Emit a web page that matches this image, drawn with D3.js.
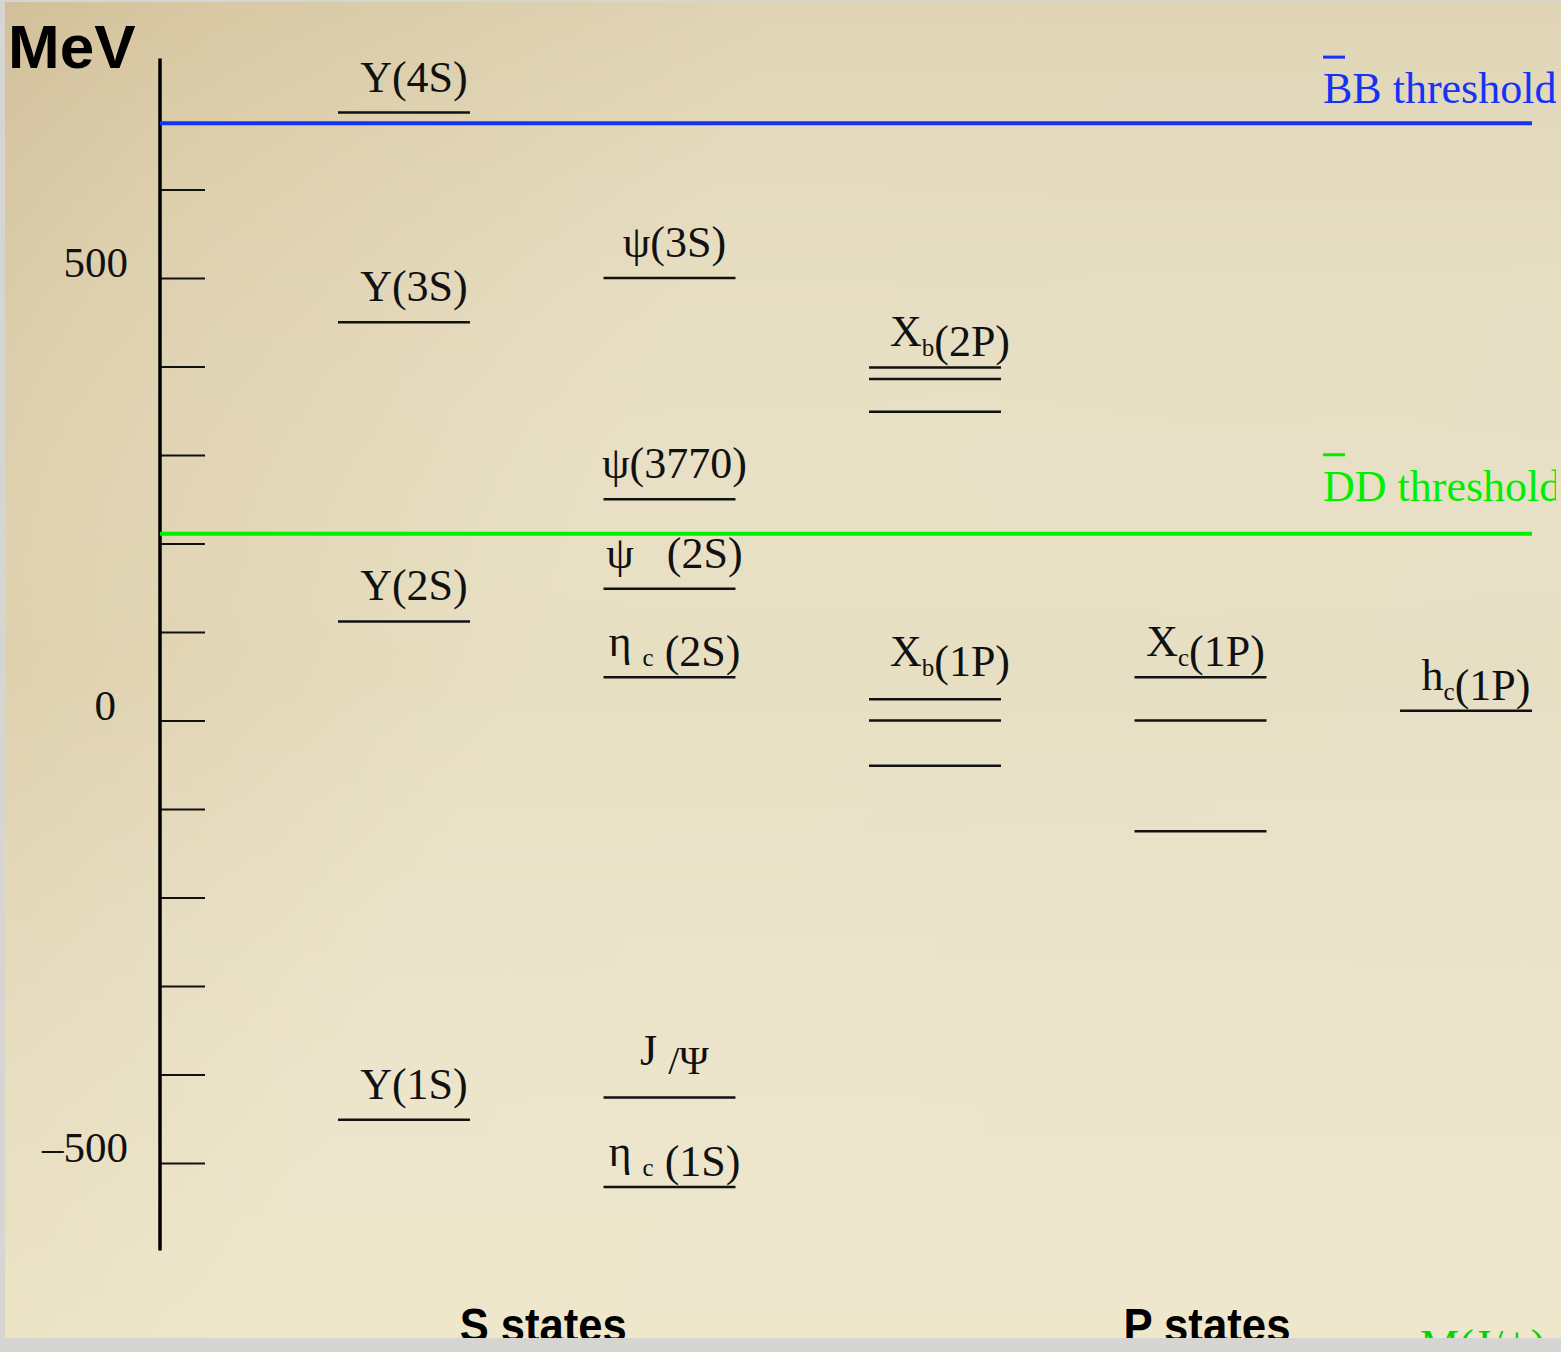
<!DOCTYPE html>
<html>
<head>
<meta charset="utf-8">
<script src="https://cdn.jsdelivr.net/npm/d3@7"></script>
<style>
  html, body { margin: 0; padding: 0; background: #d6d5d1; overflow: hidden; }
  svg { display: block; }
  text { white-space: pre; }
</style>
</head>
<body>
<svg id="chart" width="1561" height="1352"></svg>
<script>
// Quarkonium level scheme: masses relative to the 1P centre of gravity (MeV)
const columns = ["bbS", "ccS", "bbP", "ccP", "ccP1"];
const levelLabels = ["Υ(4S)", "Υ(3S)", "Υ(2S)", "Υ(1S)",
                     "ψ(3S)", "ψ(3770)", "ψ   (2S)", "η _{c} (2S)", "J ~{/Ψ}", "η _{c} (1S)",
                     "X_{b}(2P)", "X_{b}(1P)", "X_{c}(1P)", "h_{c}(1P)"];
const levelColumn = ["bbS", "bbS", "bbS", "bbS",
                     "ccS", "ccS", "ccS", "ccS", "ccS", "ccS",
                     "bbP", "bbP", "ccP", "ccP1"];
const levelMasses = [[687], [450], [112], [-451],
                     [500], [250], [149], [49], [-426], [-527],
                     [399, 386, 349], [24, 0, -51], [49, 0, -125], [11]];
const tickValues = [-500, -400, -300, -200, -100, 0, 100, 200, 300, 400, 500, 600];
const tickLabels = { "-500": "\u2013500", "0": "0", "500": "500" };
const thresholdNames = ["B", "D"];
const thresholdMasses = [675, 211];
const groupTitles = ["S states", "P states"];

const svg = d3.select("#chart");

// slide background
const defs = svg.append("defs");
const g1 = defs.append("linearGradient").attr("id", "bg")
  .attr("x1", 0).attr("y1", 0).attr("x2", 1).attr("y2", 0.35);
g1.append("stop").attr("offset", 0).attr("stop-color", "#d4c39e");
g1.append("stop").attr("offset", 0.12).attr("stop-color", "#ddcfab");
g1.append("stop").attr("offset", 0.45).attr("stop-color", "#e8dfc2");
g1.append("stop").attr("offset", 1).attr("stop-color", "#e7dfc4");
const g2 = defs.append("linearGradient").attr("id", "shade")
  .attr("x1", 0).attr("y1", 0).attr("x2", 0).attr("y2", 1);
g2.append("stop").attr("offset", 0).attr("stop-color", "#c9b58c").attr("stop-opacity", 0.25);
g2.append("stop").attr("offset", 0.5).attr("stop-color", "#ffffff").attr("stop-opacity", 0.0);
g2.append("stop").attr("offset", 1).attr("stop-color", "#fbf6dc").attr("stop-opacity", 0.35);
defs.append("clipPath").attr("id", "slideClip")
  .append("rect").attr("x", 0).attr("y", 0).attr("width", 1556).attr("height", 1352);

svg.append("rect").attr("x", 5).attr("y", 2).attr("width", 1556).attr("height", 1336).attr("fill", "url(#bg)");
svg.append("rect").attr("x", 5).attr("y", 2).attr("width", 1556).attr("height", 1336).attr("fill", "url(#shade)");

// scales
const y = d3.scaleLinear().domain([-500, 500]).range([1163, 278]);
const x = d3.scaleBand().domain(columns).range([338, 1532]).paddingInner(0.503).paddingOuter(0);
const axisX = 160;

// vertical energy axis
const axis = d3.axisRight(y).tickValues(tickValues).tickSize(45).tickFormat("");
const ax = svg.append("g").attr("transform", `translate(${axisX},0)`).call(axis);
ax.select(".domain").remove();
ax.selectAll(".tick line").attr("stroke", "#111").attr("stroke-width", 2);
svg.append("line")
  .attr("x1", axisX).attr("x2", axisX)
  .attr("y1", y(748)).attr("y2", y(-599))
  .attr("stroke", "#000").attr("stroke-width", 3.5);

svg.append("g").selectAll("text")
  .data(tickValues.filter(v => tickLabels[v] !== undefined))
  .join("text")
  .attr("x", d => d === 0 ? 116 : 128)
  .attr("y", d => y(d) - 1)
  .attr("text-anchor", "end")
  .attr("font-family", "Liberation Serif, Times New Roman, serif")
  .attr("font-size", 43)
  .attr("fill", "#111")
  .text(d => tickLabels[d]);

svg.append("text")
  .attr("x", 8).attr("y", 68)
  .attr("font-family", "Liberation Sans, Arial, sans-serif")
  .attr("font-weight", "bold").attr("font-size", 62)
  .attr("fill", "#000")
  .text("MeV");

// open-flavour thresholds
const thrColors = ["#1533f5", "#00ee00"];
const thrLift = [20, 33];
const thrText = svg.append("g").attr("clip-path", "url(#slideClip)");
thresholdMasses.forEach((m, i) => {
  svg.append("line")
    .attr("x1", axisX).attr("x2", x.range()[1])
    .attr("y1", y(m)).attr("y2", y(m))
    .attr("stroke", thrColors[i]).attr("stroke-width", 4);
  const base = y(m) - thrLift[i];
  thrText.append("text")
    .attr("x", 1323).attr("y", base)
    .attr("font-family", "Liberation Serif, Times New Roman, serif")
    .attr("font-size", 44)
    .attr("fill", thrColors[i])
    .text(thresholdNames[i] + thresholdNames[i] + " threshold");
  svg.append("line")
    .attr("x1", 1323).attr("x2", 1345)
    .attr("y1", base - 46).attr("y2", base - 46)
    .attr("stroke", thrColors[i]).attr("stroke-width", 3);
});

// energy levels
const levels = svg.append("g");
levelLabels.forEach((label, i) => {
  const col = levelColumn[i];
  const x0 = x(col), x1 = x(col) + x.bandwidth();
  levelMasses[i].forEach(m => {
    levels.append("line")
      .attr("x1", x0).attr("x2", x1)
      .attr("y1", y(m)).attr("y2", y(m))
      .attr("stroke", "#111").attr("stroke-width", 2.5);
  });
  const top = y(d3.max(levelMasses[i]));
  const lift = (label === "X_{b}(1P)" || label === "J ~{/Ψ}") ? 33 : 21;
  const dx = col === "ccS" ? 5 : col === "bbP" ? 15 : col === "ccP" ? 5 : 10;
  const t = levels.append("text")
    .attr("x", (x0 + x1) / 2 + dx)
    .attr("y", top - lift)
    .attr("text-anchor", "middle")
    .attr("font-family", "Liberation Serif, Times New Roman, serif")
    .attr("font-size", 44)
    .attr("fill", "#111");
  // tiny markup: _{..} subscript, ~{..} lowered
  const parts = label.split(/([_~]\{[^}]*\})/).filter(s => s.length);
  parts.forEach(p => {
    if (p.startsWith("_{")) {
      t.append("tspan").attr("font-size", 25).attr("dy", 10).text(p.slice(2, -1));
      t.append("tspan").attr("dy", -10).text("");
    } else if (p.startsWith("~{")) {
      t.append("tspan").attr("font-size", 40).attr("dy", 9).text(p.slice(2, -1));
    } else {
      t.append("tspan").text(p);
    }
  });
});

// group titles
const titleX = [(x("bbS") + x("ccS") + x.bandwidth()) / 2, x("ccP") + x.bandwidth() / 2];
groupTitles.forEach((s, i) => {
  svg.append("text")
    .attr("x", titleX[i] - 77).attr("y", 1342)
    .attr("font-family", "Liberation Sans, Arial, sans-serif")
    .attr("font-weight", "bold").attr("font-size", 48)
    .attr("textLength", 167).attr("lengthAdjust", "spacingAndGlyphs")
    .attr("fill", "#000")
    .text(s);
});

// green caption running off the lower edge of the slide
svg.append("text")
  .attr("x", 1420).attr("y", 1360)
  .attr("font-family", "Liberation Serif, Times New Roman, serif")
  .attr("font-size", 44)
  .attr("fill", "#00d400")
  .text("M(J/ψ)");

// page border around the slide
svg.append("rect").attr("x", 0).attr("y", 1338).attr("width", 1561).attr("height", 14).attr("fill", "#d6d5d1");
svg.append("rect").attr("x", 0).attr("y", 0).attr("width", 5).attr("height", 1352).attr("fill", "#d6d5d1");
svg.append("rect").attr("x", 0).attr("y", 0).attr("width", 1561).attr("height", 2).attr("fill", "#d6d5d1");
</script>
</body>
</html>
